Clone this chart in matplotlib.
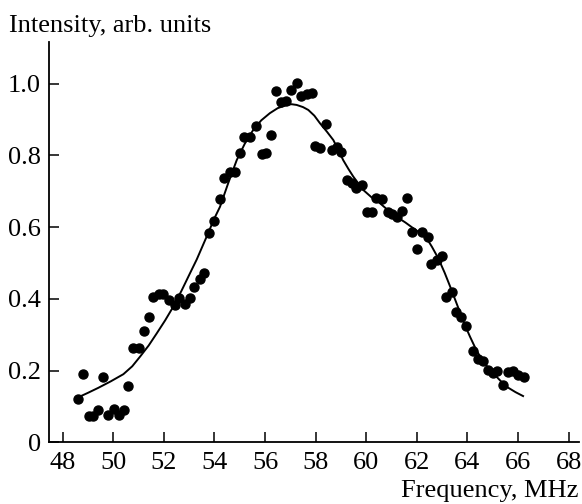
import numpy as np
import matplotlib.pyplot as plt

plt.rcParams['font.family'] = ['Liberation Serif', 'DejaVu Serif']

# measured points (frequency in MHz, intensity in arb. units)
freq = [48.59, 48.79, 49.05, 49.19, 49.41, 49.60, 49.80, 50.03, 50.24, 50.42,
        50.59, 50.79, 51.03, 51.21, 51.41, 51.58, 51.81, 51.98, 52.20, 52.44,
        52.61, 52.83, 53.03, 53.20, 53.43, 53.60, 53.78, 53.98, 54.22, 54.39,
        54.62, 54.80, 55.02, 55.17, 55.40, 55.63, 55.88, 56.05, 56.22, 56.45,
        56.63, 56.81, 57.02, 57.25, 57.42, 57.64, 57.84, 57.98, 58.17, 58.41,
        58.64, 58.83, 59.00, 59.23, 59.42, 59.59, 59.82, 60.02, 60.21, 60.37,
        60.61, 60.85, 61.03, 61.20, 61.42, 61.60, 61.82, 61.99, 62.19, 62.43,
        62.58, 62.78, 62.98, 63.15, 63.38, 63.53, 63.73, 63.94, 64.23, 64.43,
        64.62, 64.80, 65.00, 65.18, 65.42, 65.61, 65.81, 66.01, 66.23]
intensity = [0.122, 0.191, 0.074, 0.074, 0.089, 0.182, 0.077, 0.092, 0.077, 0.089,
             0.157, 0.262, 0.262, 0.310, 0.349, 0.406, 0.414, 0.413, 0.397, 0.383,
             0.402, 0.386, 0.403, 0.432, 0.455, 0.473, 0.583, 0.618, 0.680, 0.736,
             0.754, 0.754, 0.808, 0.852, 0.852, 0.882, 0.803, 0.807, 0.857, 0.980,
             0.950, 0.953, 0.983, 1.001, 0.966, 0.972, 0.973, 0.826, 0.820, 0.888,
             0.815, 0.823, 0.809, 0.732, 0.722, 0.708, 0.718, 0.643, 0.643, 0.681,
             0.678, 0.643, 0.637, 0.628, 0.646, 0.682, 0.587, 0.538, 0.587, 0.573,
             0.497, 0.508, 0.520, 0.406, 0.418, 0.363, 0.350, 0.325, 0.255, 0.232,
             0.227, 0.202, 0.192, 0.199, 0.160, 0.197, 0.200, 0.188, 0.181]

# fitted curve
fit_freq = [48.6, 49.0, 49.41, 49.9, 50.4, 50.75, 51.06, 51.4, 51.72, 52.05,
            52.37, 52.7, 53.03, 53.3, 53.7, 54.0, 54.22, 54.55, 54.88, 55.2,
            55.53, 55.85, 56.19, 56.5, 56.85, 57.05, 57.25, 57.5, 57.71, 57.95,
            58.17, 58.45, 58.7, 58.9, 59.09, 59.3, 59.49, 59.7, 59.88, 60.2,
            60.54, 60.85, 61.2, 61.55, 61.86, 62.15, 62.39, 62.6, 62.85, 63.1,
            63.32, 63.52, 63.72, 63.9, 64.1, 64.3, 64.5, 64.75, 65.03, 65.3,
            65.55, 65.9, 66.2]
fit_int = [0.125, 0.138, 0.152, 0.170, 0.190, 0.212, 0.239, 0.270, 0.304, 0.340,
           0.378, 0.423, 0.471, 0.510, 0.575, 0.625, 0.657, 0.724, 0.787, 0.833,
           0.871, 0.898, 0.918, 0.932, 0.941, 0.943, 0.941, 0.935, 0.927, 0.911,
           0.890, 0.866, 0.843, 0.815, 0.787, 0.762, 0.741, 0.721, 0.704, 0.684,
           0.667, 0.648, 0.629, 0.613, 0.597, 0.583, 0.569, 0.545, 0.513, 0.473,
           0.434, 0.397, 0.360, 0.327, 0.295, 0.265, 0.239, 0.214, 0.192, 0.172,
           0.155, 0.140, 0.129]

x_ticks = np.arange(48, 69, 2)
y_ticks = [0, 0.2, 0.4, 0.6, 0.8, 1.0]
y_labels = ['0', '0.2', '0.4', '0.6', '0.8', '1.0']

fig = plt.figure(figsize=(5.82, 5.04), dpi=100)
ax = fig.add_axes([0.0842, 0.1224, 0.9106, 0.7946])

ax.plot(fit_freq, fit_int, color='black', lw=1.4)
ax.plot(freq, intensity, 'o', color='black', ms=6.5, mec='black')

ax.set_xlim(47.46, 68.41)
ax.set_ylim(0, 1.117)
ax.set_xticks(x_ticks)
ax.set_yticks(y_ticks)
ax.set_yticklabels(y_labels)
ax.spines['top'].set_visible(False)
ax.spines['right'].set_visible(False)
for s in ['left', 'bottom']:
    ax.spines[s].set_linewidth(1.3)
ax.tick_params(direction='in', length=7, width=1.1, labelsize=19)
ax.tick_params(axis='x', pad=7)
ax.tick_params(axis='y', pad=6)

fig.text(0.015, 0.937, 'Intensity, arb. units', fontsize=19, ha='left', va='baseline')
fig.text(0.994, 0.003, 'Frequency, MHz', fontsize=19, ha='right', va='bottom')

fig.savefig('out.png', dpi=100)
